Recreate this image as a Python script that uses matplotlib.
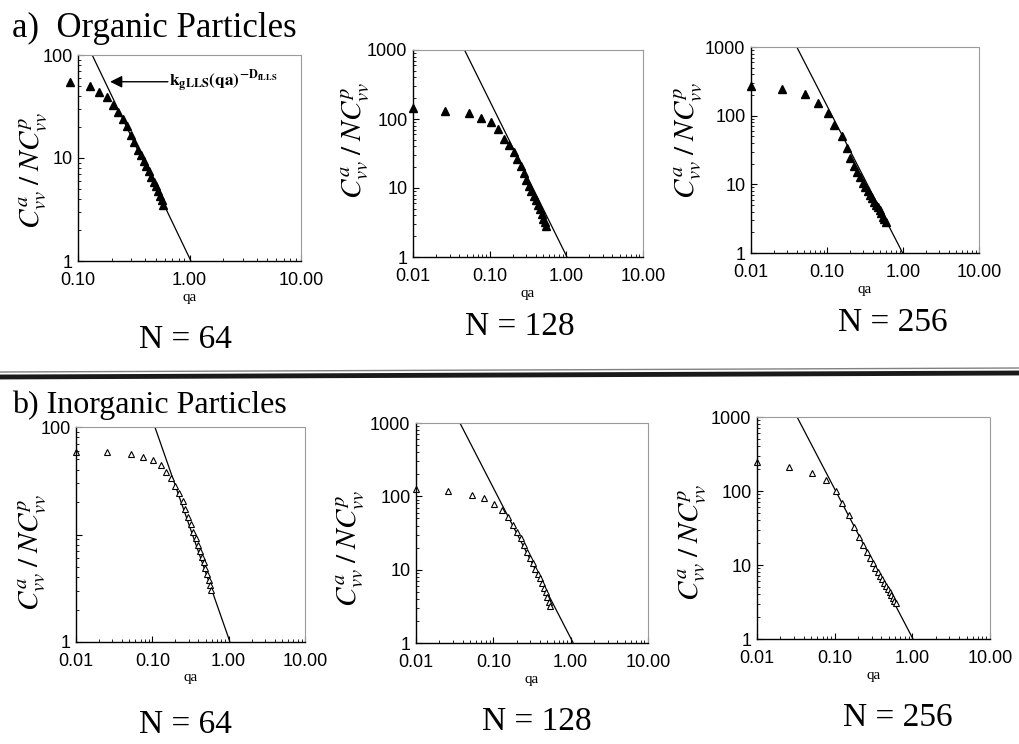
import numpy as np
import matplotlib.pyplot as plt
from matplotlib.ticker import FixedLocator, FuncFormatter, LogLocator, NullFormatter

plt.rcParams['mathtext.fontset'] = 'stix'
plt.rcParams['font.family'] = ['Liberation Sans', 'DejaVu Sans']

# ---- data ----
# a) organic particles (filled triangles)
qa_org64 = [0.085, 0.128, 0.155, 0.181, 0.207, 0.228, 0.252, 0.275, 0.297, 0.32,
            0.342, 0.365, 0.388, 0.41, 0.432, 0.455, 0.478, 0.5, 0.522, 0.545, 0.565, 0.58]
c_org64 = [55, 50, 43.5, 38.8, 32.7, 28.2, 23.9, 20.5, 16.7, 14.4,
           12.0, 10.6, 9.3, 8.3, 7.4, 6.6, 5.9, 5.3, 4.8, 4.3, 3.9, 3.5]

qa_org128 = [0.01, 0.026, 0.053, 0.078, 0.104, 0.128, 0.152, 0.18, 0.205, 0.23, 0.253,
             0.278, 0.302, 0.325, 0.35, 0.375, 0.4, 0.425, 0.45, 0.475, 0.5, 0.525, 0.55]
c_org128 = [145, 131, 121, 104, 89, 72, 52, 42, 33, 26, 21,
            16.7, 13.1, 10.7, 9.0, 7.6, 6.6, 5.7, 4.9, 4.2, 3.6, 3.2, 2.85]

qa_org256 = [0.01, 0.0255, 0.0515, 0.077, 0.102, 0.125, 0.156, 0.182, 0.201, 0.227, 0.25,
             0.272, 0.294, 0.32, 0.345, 0.37, 0.395, 0.42, 0.445, 0.47, 0.495, 0.52,
             0.545, 0.57, 0.595]
c_org256 = [270, 245, 207, 153, 109, 74, 50, 34, 24, 18.7, 15.1,
            12.7, 10.5, 9.1, 8.0, 7.1, 6.3, 5.6, 5.0, 4.6, 4.2, 3.8,
            3.4, 3.1, 2.85]

# b) inorganic particles (open triangles)
qa_inorg64 = [0.01, 0.0257, 0.052, 0.076, 0.103, 0.129, 0.151, 0.176, 0.199, 0.226, 0.25,
              0.271, 0.297, 0.32, 0.345, 0.37, 0.395, 0.42, 0.445, 0.47, 0.495, 0.52,
              0.545, 0.57, 0.595]
c_inorg64 = [59, 58, 56, 53, 49, 44, 38, 33.6, 28.4, 24.3, 20.3,
             17.4, 14.7, 12.4, 10.6, 9.2, 8.0, 7.0, 6.2, 5.5, 4.9, 4.3,
             3.8, 3.4, 3.05]

qa_inorg128 = [0.01, 0.0257, 0.0525, 0.076, 0.103, 0.128, 0.153, 0.178, 0.2, 0.225, 0.25,
               0.275, 0.3, 0.325, 0.35, 0.375, 0.4, 0.425, 0.45, 0.475, 0.5, 0.52, 0.54]
c_inorg128 = [127, 117, 105, 95, 79, 66, 53, 41, 33, 26.9, 21.5,
              17.6, 14.6, 12.2, 10.3, 8.8, 7.6, 6.6, 5.6, 4.9, 4.2, 3.6, 3.15]

qa_inorg256 = [0.01, 0.0258, 0.051, 0.078, 0.103, 0.126, 0.152, 0.176, 0.204, 0.232, 0.257,
               0.283, 0.31, 0.335, 0.36, 0.385, 0.41, 0.435, 0.46, 0.485, 0.51, 0.535,
               0.56, 0.585, 0.61]
c_inorg256 = [248, 208, 176, 140, 100, 69, 47, 33, 24, 18.7, 15.1,
              12.3, 10.5, 9.2, 8.1, 7.2, 6.4, 5.8, 5.2, 4.7, 4.3, 3.9,
              3.6, 3.3, 3.1]

# power-law fit lines, end points (qa, C)
fit_org64 = ([0.134, 1.03], [100, 1])
fit_org128 = ([0.047, 1.02], [1000, 1])
fit_org256 = ([0.040, 0.99], [1000, 1])
fit_inorg64 = ([0.108, 1.04], [100, 1])
fit_inorg128 = ([0.037, 1.08], [1000, 1])
fit_inorg256 = ([0.0328, 1.02], [1000, 1])

n_labels = ['N = 64', 'N = 128', 'N = 256']

W, H = 1019, 744
fig = plt.figure(figsize=(W / 100, H / 100), dpi=100)


def make_ax(box):
    x0, y0, x1, y1 = box
    return fig.add_axes([x0 / W, 1 - y1 / H, (x1 - x0) / W, (y1 - y0) / H])


def style(ax, xlim, ylim, show10=True):
    ax.set_xscale('log')
    ax.set_yscale('log')
    ax.set_xlim(*xlim)
    ax.set_ylim(*ylim)
    xt = [t for t in [0.01, 0.1, 1, 10] if xlim[0] <= t <= xlim[1]]
    ax.xaxis.set_major_locator(FixedLocator(xt))
    ax.xaxis.set_major_formatter(FuncFormatter(lambda v, p: '%.2f' % v))
    ax.xaxis.set_minor_locator(LogLocator(base=10, subs=np.arange(2, 10)))
    ax.xaxis.set_minor_formatter(NullFormatter())
    yt = [t for t in [1, 10, 100, 1000] if ylim[0] <= t <= ylim[1]]
    ax.yaxis.set_major_locator(FixedLocator(yt))

    def yfmt(v, p):
        if not show10 and abs(v - 10) < 1e-6:
            return ''
        return '%d' % round(v)
    ax.yaxis.set_major_formatter(FuncFormatter(yfmt))
    ax.yaxis.set_minor_locator(LogLocator(base=10, subs=np.arange(2, 10)))
    ax.yaxis.set_minor_formatter(NullFormatter())
    ax.tick_params(which='both', direction='in', labelsize=13)
    ax.tick_params(which='major', length=4, width=0.8)
    ax.tick_params(which='minor', length=2.5, width=0.6)
    ax.tick_params(axis='x', pad=8)
    ax.tick_params(axis='y', pad=4)
    for s in ['top', 'right']:
        ax.spines[s].set_color('#9a9a9a')
        ax.spines[s].set_linewidth(0.8)
        ax.spines[s].set_linestyle((0, (1, 1)))
    for s in ['left', 'bottom']:
        ax.spines[s].set_linewidth(1.0)
    ax.set_xlabel('qa', family='Liberation Serif', fontsize=11, labelpad=1)


panels = [
    ((78, 55, 301, 261), (0.1, 10), (1, 100), qa_org64, c_org64, fit_org64, True, True),
    ((413, 50, 643, 257), (0.01, 10), (1, 1000), qa_org128, c_org128, fit_org128, True, True),
    ((751, 47, 979, 253), (0.01, 10), (1, 1000), qa_org256, c_org256, fit_org256, True, True),
    ((76, 427, 305, 642), (0.01, 10), (1, 100), qa_inorg64, c_inorg64, fit_inorg64, False, False),
    ((416, 423, 648, 643), (0.01, 10), (1, 1000), qa_inorg128, c_inorg128, fit_inorg128, False, True),
    ((757, 417, 990, 639), (0.01, 10), (1, 1000), qa_inorg256, c_inorg256, fit_inorg256, False, True),
]

ylab_pos = [(33, 170), (355, 140), (688, 140), (32, 552), (350, 548), (692, 542)]

axes = []
for i, (box, xl, yl, qa, c, fit, filled, show10) in enumerate(panels):
    ax = make_ax(box)
    style(ax, xl, yl, show10)
    ax.plot(fit[0], fit[1], color='black', lw=0.9)
    if filled:
        ax.plot(qa, c, linestyle='none', marker='^', ms=5.5, mfc='black', mec='black',
                clip_on=False)
    else:
        ax.plot(qa, c, linestyle='none', marker='^', ms=5.0, mfc='white', mec='black',
                mew=0.8, clip_on=False)
    lx, ly = ylab_pos[i]
    fig.text(lx / W, 1 - ly / H, r'$C^{a}_{vv}\;/\;NC^{p}_{vv}$', rotation=90,
             ha='center', va='center', fontsize=21)
    axes.append(ax)

# annotation in the first panel
axes[0].annotate('', xy=(0.194, 55), xytext=(0.64, 55),
                 arrowprops=dict(arrowstyle='-|>', color='black', lw=1.0,
                                 mutation_scale=18, shrinkA=0, shrinkB=0))
axes[0].text(0.66, 55, r'$\mathbf{k_{gLLS}(qa)^{-D_{fLLS}}}$', fontsize=12.5,
             ha='left', va='center')

# section titles and N labels
serif = 'Liberation Serif'
fig.text(12 / W, 1 - 28 / H, 'a)  Organic Particles', family=serif, fontsize=25,
         ha='left', va='center')
fig.text(12 / W, 1 - 405 / H, 'b) Inorganic Particles', family=serif, fontsize=23,
         ha='left', va='center')

n_pos_top = [(185, 340), (520, 327), (893, 323)]
n_pos_bot = [(185, 725), (537, 722), (898, 718)]
for lab, (x, y) in zip(n_labels, n_pos_top):
    fig.text(x / W, 1 - y / H, lab, family=serif, fontsize=24, ha='center', va='center')
for lab, (x, y) in zip(n_labels, n_pos_bot):
    fig.text(x / W, 1 - y / H, lab, family=serif, fontsize=24, ha='center', va='center')

# separator bar between the two sections
fig.add_artist(plt.Line2D([0, 1], [1 - 377 / H, 1 - 373 / H], color='#1a1a1a', lw=3.5,
                          transform=fig.transFigure))
fig.add_artist(plt.Line2D([0, 1], [1 - 372 / H, 1 - 368 / H], color='#808080', lw=1.0,
                          transform=fig.transFigure))

fig.savefig('out.png', dpi=100, facecolor='white')
